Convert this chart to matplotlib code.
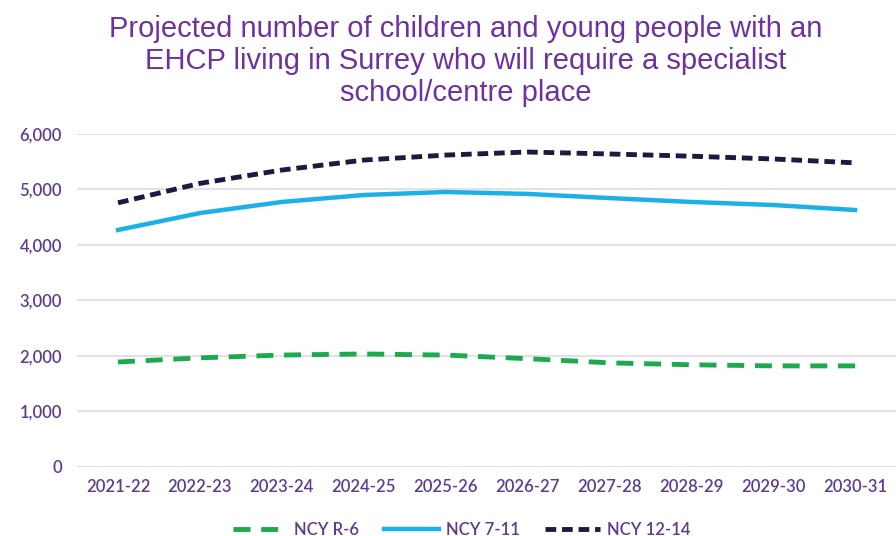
import matplotlib
matplotlib.use("Agg")
import matplotlib.pyplot as plt
from matplotlib.ticker import FuncFormatter

years = ["2021-22", "2022-23", "2023-24", "2024-25", "2025-26",
         "2026-27", "2027-28", "2028-29", "2029-30", "2030-31"]
ncy_r6 = [1890, 1965, 2015, 2035, 2015, 1950, 1875, 1840, 1820, 1820]
ncy_7_11 = [4270, 4575, 4775, 4900, 4955, 4920, 4845, 4775, 4720, 4630]
ncy_12_14 = [4760, 5110, 5350, 5530, 5620, 5675, 5640, 5600, 5550, 5480]

purple_title = "#7030A0"
purple_tick = "#5E3C8C"

fig = plt.figure(figsize=(8.96, 5.36), dpi=100)
ax = fig.add_axes([0.086, 0.129, 0.914, 0.621])

x = list(range(len(years)))
ax.plot(x, ncy_r6, color="#1DAA4F", lw=3.5, linestyle=(0, (3.5, 2.2)),
        label="NCY R-6")
ax.plot(x, ncy_7_11, color="#1CB0E6", lw=3.2, label="NCY 7-11")
ax.plot(x, ncy_12_14, color="#22173F", lw=3.5, linestyle=(0, (2.2, 1.2)),
        label="NCY 12-14")

ax.set_xlim(-0.5, len(years) - 0.5)
ax.set_ylim(0, 6000)
ax.set_yticks(range(0, 6001, 1000))
ax.yaxis.set_major_formatter(FuncFormatter(lambda v, _: f"{int(v):,}"))
ax.set_xticks(x)
ax.set_xticklabels(years)

ax.grid(axis="y", color="#DCDAE8", lw=1.2)
ax.set_axisbelow(True)
for s in ax.spines.values():
    s.set_visible(False)
ax.tick_params(length=0, colors=purple_tick, labelsize=12)
ax.tick_params(axis="x", pad=9)
ax.tick_params(axis="y", pad=11)
for lab in ax.get_xticklabels() + ax.get_yticklabels():
    lab.set_fontfamily("Lato")
    lab.set_fontweight("semibold")
    lab.set_color(purple_tick)

fig.text(0.52, 0.972,
         "Projected number of children and young people with an\n"
         "EHCP living in Surrey who will require a specialist\n"
         "school/centre place",
         ha="center", va="top", color=purple_title, fontsize=21,
         family="Liberation Sans", linespacing=1.18)

leg = fig.legend(loc="center", bbox_to_anchor=(0.515, 0.012), ncol=3,
                 frameon=False, handlelength=3.3,
                 columnspacing=1.5, handletextpad=0.4,
                 prop={"family": "Lato", "size": 12, "weight": "semibold"})
for t in leg.get_texts():
    t.set_color(purple_tick)

fig.savefig("out.png", dpi=100)
